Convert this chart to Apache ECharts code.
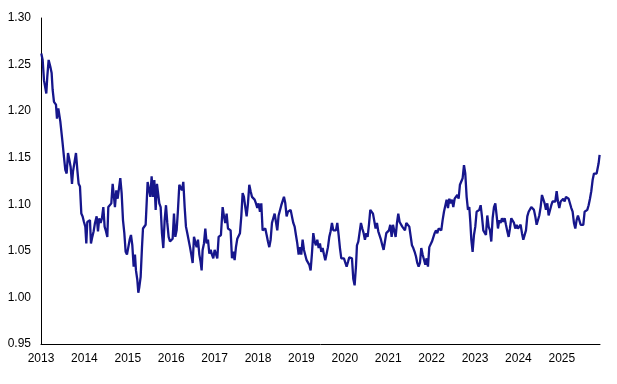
<!DOCTYPE html>
<html>
<head>
<meta charset="utf-8">
<script src="https://cdn.jsdelivr.net/npm/echarts@6/dist/echarts.min.js"></script>
<style>
html,body{margin:0;padding:0;background:#fff;}
#c{width:617px;height:384px;}
</style>
</head>
<body>
<div id="c"></div>
<script>
// decimal-year dates of each observation
const years = [
2013.007,2013.038,2013.069,2013.099,2013.122,2013.145,2013.176,2013.191,2013.214,2013.245,2013.268,2013.299,2013.345,2013.368,2013.399,2013.422,2013.445,2013.476,2013.499,2013.529,2013.560,2013.591,2013.622,2013.652,2013.683,2013.714,2013.737,2013.775,2013.806,2013.837,2013.867,2013.898,2013.929,2013.959,2013.990,
2014.021,2014.044,2014.067,2014.098,2014.128,2014.151,2014.182,2014.213,2014.244,2014.282,2014.313,2014.343,2014.374,2014.405,2014.436,2014.466,2014.497,2014.528,2014.551,2014.589,2014.620,2014.651,2014.674,2014.704,2014.735,2014.766,2014.797,2014.827,2014.858,2014.889,2014.920,2014.950,2014.981,
2015.012,2015.043,2015.073,2015.104,2015.135,2015.165,2015.188,2015.219,2015.242,2015.265,2015.296,2015.327,2015.350,2015.380,2015.411,2015.434,2015.457,2015.488,2015.519,2015.549,2015.580,2015.611,2015.642,2015.672,2015.703,2015.726,2015.757,2015.787,2015.818,2015.849,2015.880,2015.910,2015.941,2015.972,
2016.003,2016.033,2016.064,2016.095,2016.125,2016.156,2016.187,2016.218,2016.248,2016.279,2016.310,2016.340,2016.371,2016.402,2016.433,2016.463,2016.494,2016.525,2016.555,2016.586,2016.617,2016.648,2016.678,2016.701,2016.724,2016.755,2016.786,2016.817,2016.847,2016.878,2016.909,2016.939,2016.970,
2017.001,2017.032,2017.062,2017.093,2017.108,2017.146,2017.185,2017.216,2017.246,2017.277,2017.308,2017.338,2017.369,2017.400,2017.431,2017.461,2017.492,2017.523,2017.553,2017.584,2017.615,2017.646,2017.676,2017.707,2017.738,2017.769,2017.799,2017.830,2017.861,2017.891,2017.922,2017.953,2017.984,
2018.014,2018.045,2018.076,2018.106,2018.137,2018.168,2018.199,2018.229,2018.260,2018.291,2018.322,2018.352,2018.383,2018.414,2018.444,2018.475,2018.506,2018.537,2018.567,2018.598,2018.629,2018.659,2018.690,2018.721,2018.752,2018.782,2018.813,2018.844,2018.874,2018.905,2018.936,2018.967,2018.997,
2019.028,2019.059,2019.090,2019.120,2019.151,2019.182,2019.212,2019.243,2019.274,2019.305,2019.335,2019.366,2019.397,2019.427,2019.458,2019.489,2019.520,2019.550,2019.581,2019.612,2019.643,2019.673,2019.704,2019.735,2019.765,2019.796,2019.827,2019.858,2019.888,2019.919,2019.950,2019.980,
2020.011,2020.042,2020.073,2020.103,2020.134,2020.165,2020.195,2020.226,2020.257,2020.280,2020.311,2020.341,2020.372,2020.403,2020.434,2020.464,2020.495,2020.526,2020.556,2020.587,2020.618,2020.649,2020.679,2020.710,2020.741,2020.771,2020.802,2020.833,2020.864,2020.894,2020.925,2020.956,2020.986,
2021.017,2021.048,2021.079,2021.110,2021.140,2021.171,2021.202,2021.232,2021.263,2021.294,2021.324,2021.355,2021.386,2021.417,2021.447,2021.486,2021.517,2021.547,2021.578,2021.609,2021.640,2021.670,2021.701,2021.732,2021.762,2021.793,2021.824,2021.855,2021.885,2021.916,2021.947,2021.978,
2022.008,2022.039,2022.070,2022.100,2022.131,2022.162,2022.193,2022.223,2022.254,2022.285,2022.315,2022.346,2022.377,2022.408,2022.438,2022.469,2022.500,2022.531,2022.561,2022.592,2022.623,2022.653,2022.684,2022.715,2022.746,2022.776,2022.807,2022.838,2022.868,2022.892,2022.915,2022.945,2022.976,
2023.007,2023.037,2023.068,2023.099,2023.130,2023.160,2023.191,2023.222,2023.252,2023.283,2023.314,2023.345,2023.375,2023.406,2023.437,2023.468,2023.498,2023.529,2023.560,2023.590,2023.621,2023.652,2023.683,2023.713,2023.744,2023.775,2023.805,2023.836,2023.867,2023.898,2023.928,2023.959,2023.990,
2024.021,2024.051,2024.082,2024.113,2024.143,2024.174,2024.205,2024.236,2024.266,2024.297,2024.328,2024.358,2024.389,2024.420,2024.451,2024.481,2024.512,2024.543,2024.573,2024.604,2024.635,2024.666,2024.696,2024.727,2024.758,2024.788,2024.819,2024.850,2024.881,2024.911,2024.942,2024.973,
2025.003,2025.034,2025.065,2025.096,2025.126,2025.157,2025.188,2025.219,2025.249,2025.280,2025.311,2025.341,2025.372,2025.403,2025.434,2025.464,2025.495,2025.526,2025.556,2025.587,2025.618,2025.649,2025.679,2025.710,2025.741,2025.771,2025.802,2025.833,2025.848,2025.871
];
// series values
const ratio = [
1.262,1.255,1.233,1.232,1.219,1.237,1.255,1.257,1.248,1.241,1.223,1.210,1.207,1.192,1.203,1.203,1.189,1.187,1.165,1.151,1.137,1.133,1.155,1.148,1.140,1.122,1.135,1.137,1.155,1.137,1.122,1.119,1.090,1.087,1.081,
1.076,1.058,1.081,1.080,1.083,1.058,1.065,1.071,1.080,1.087,1.071,1.085,1.080,1.085,1.097,1.076,1.071,1.065,1.097,1.097,1.101,1.122,1.124,1.097,1.115,1.106,1.117,1.128,1.112,1.083,1.069,1.049,1.046,
1.047,1.062,1.067,1.056,1.033,1.046,1.029,1.019,1.005,1.011,1.022,1.054,1.074,1.072,1.078,1.101,1.124,1.122,1.108,1.130,1.108,1.126,1.094,1.122,1.122,1.101,1.097,1.069,1.053,1.083,1.099,1.080,1.065,1.060,
1.062,1.063,1.090,1.065,1.072,1.094,1.121,1.121,1.115,1.124,1.097,1.076,1.069,1.071,1.054,1.046,1.037,1.065,1.067,1.054,1.062,1.046,1.038,1.029,1.051,1.058,1.074,1.058,1.062,1.047,1.051,1.046,1.042,
1.051,1.053,1.042,1.065,1.065,1.067,1.097,1.087,1.080,1.090,1.074,1.074,1.072,1.042,1.049,1.040,1.054,1.063,1.063,1.069,1.087,1.112,1.108,1.097,1.087,1.101,1.121,1.114,1.108,1.110,1.105,1.101,1.096,
1.101,1.092,1.101,1.072,1.071,1.074,1.067,1.060,1.054,1.062,1.080,1.085,1.090,1.081,1.072,1.088,1.090,1.099,1.097,1.108,1.101,1.087,1.092,1.092,1.094,1.087,1.080,1.076,1.067,1.058,1.046,1.054,1.046,
1.062,1.051,1.051,1.040,1.038,1.035,1.029,1.047,1.069,1.060,1.056,1.062,1.053,1.058,1.049,1.053,1.046,1.040,1.047,1.054,1.065,1.071,1.080,1.072,1.071,1.072,1.080,1.067,1.053,1.042,1.044,1.042,
1.040,1.033,1.038,1.043,1.044,1.042,1.020,1.013,1.033,1.056,1.060,1.062,1.080,1.074,1.069,1.062,1.069,1.065,1.078,1.094,1.096,1.090,1.090,1.074,1.080,1.071,1.069,1.062,1.056,1.051,1.060,1.069,1.069,
1.072,1.078,1.065,1.078,1.076,1.065,1.080,1.090,1.081,1.083,1.076,1.078,1.072,1.080,1.080,1.076,1.074,1.056,1.053,1.049,1.044,1.037,1.033,1.037,1.053,1.046,1.047,1.035,1.042,1.033,1.054,1.056,
1.060,1.062,1.069,1.072,1.069,1.074,1.074,1.072,1.083,1.092,1.092,1.105,1.096,1.106,1.101,1.105,1.097,1.106,1.105,1.110,1.106,1.121,1.119,1.128,1.142,1.133,1.108,1.094,1.097,1.081,1.062,1.049,1.067,
1.076,1.092,1.092,1.094,1.099,1.087,1.072,1.072,1.067,1.088,1.076,1.072,1.060,1.085,1.097,1.101,1.088,1.074,1.083,1.080,1.085,1.081,1.085,1.078,1.071,1.065,1.074,1.085,1.083,1.080,1.074,1.078,1.074,
1.072,1.078,1.069,1.062,1.060,1.072,1.087,1.092,1.094,1.097,1.099,1.094,1.087,1.078,1.078,1.088,1.097,1.110,1.112,1.101,1.094,1.101,1.088,1.090,1.099,1.103,1.105,1.103,1.114,1.103,1.096,1.103,
1.105,1.106,1.103,1.108,1.106,1.106,1.105,1.096,1.092,1.080,1.074,1.083,1.088,1.083,1.078,1.078,1.078,1.092,1.094,1.094,1.099,1.106,1.114,1.126,1.133,1.133,1.133,1.135,1.144,1.153
];
const yearTicks = [2013,2014,2015,2016,2017,2018,2019,2020,2021,2022,2023,2024,2025];
const yTicks = [0.95,1.00,1.05,1.10,1.15,1.20,1.25,1.30];

const data = years.map((t, i) => [t, ratio[i]]);
const chart = echarts.init(document.getElementById('c'), null, {renderer: 'canvas'});
chart.setOption({
  animation: false,
  backgroundColor: '#ffffff',
  grid: {left: 41, right: 17, top: 18, bottom: 40, containLabel: false},
  xAxis: {
    type: 'value',
    min: yearTicks[0],
    max: 2025.88,
    interval: 1,
    axisLine: {show: true, lineStyle: {color: '#000', width: 1}},
    axisTick: {show: false},
    splitLine: {show: false},
    axisLabel: {
      color: '#000', fontSize: 12, fontFamily: 'Liberation Sans, Arial, sans-serif', margin: 9,
      showMaxLabel: false,
      formatter: v => yearTicks.includes(Math.round(v)) && Math.abs(v - Math.round(v)) < 1e-6 ? String(Math.round(v)) : ''
    }
  },
  yAxis: {
    type: 'value',
    min: yTicks[0],
    max: yTicks[yTicks.length - 1],
    interval: 0.05,
    axisLine: {show: true, lineStyle: {color: '#000', width: 1}},
    axisTick: {show: false},
    splitLine: {show: false},
    axisLabel: {
      color: '#000', fontSize: 12, fontFamily: 'Liberation Sans, Arial, sans-serif', margin: 10,
      formatter: v => v.toFixed(2)
    }
  },
  series: [{
    type: 'line',
    data: data,
    showSymbol: false,
    symbol: 'none',
    lineStyle: {color: '#16168C', width: 2.3},
    itemStyle: {color: '#16168C'}
  }]
});
</script>
</body>
</html>
